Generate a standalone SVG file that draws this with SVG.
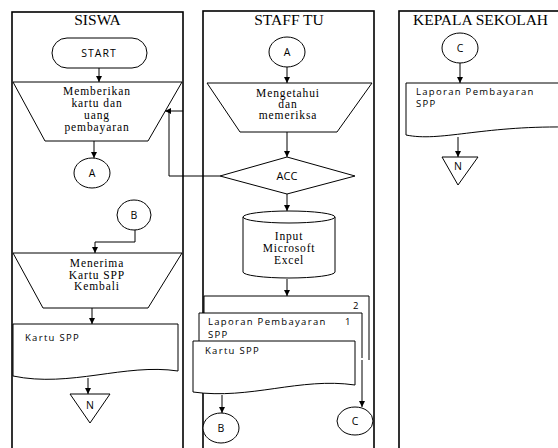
<svg xmlns="http://www.w3.org/2000/svg" width="558" height="448" viewBox="0 0 558 448">
<defs>
<marker id="ah" markerUnits="userSpaceOnUse" markerWidth="7" markerHeight="7" refX="6" refY="3" orient="auto">
<path d="M0,0 L6,3 L0,6 Z" fill="#000"/>
</marker>
<style>
.lane{fill:none;stroke:#000;stroke-width:1.6}
.shp{fill:#fff;stroke:#000;stroke-width:1}
.con{fill:none;stroke:#000;stroke-width:1;marker-end:url(#ah)}
.ln{fill:none;stroke:#000;stroke-width:1}
.hd{font-family:"Liberation Serif",serif;font-size:15.5px;fill:#000;text-anchor:middle}
.sf{font-family:"Liberation Serif",serif;font-size:11.5px;fill:#000;text-anchor:middle;letter-spacing:0.9px}
.ss{font-family:"Open Sans","DejaVu Sans",sans-serif;font-size:9.5px;fill:#000;letter-spacing:1.3px}
.sc{font-family:"Open Sans","DejaVu Sans",sans-serif;font-size:10.5px;fill:#000;text-anchor:middle}
</style>
</defs>
<rect width="558" height="448" fill="#fff"/>
<g id="lanes">
<rect class="lane" x="12" y="12" width="171" height="440"/>
<rect class="lane" x="203" y="11" width="171" height="441"/>
<rect class="lane" x="399" y="11" width="170" height="441"/>
<text class="hd" x="97.5" y="25">SISWA</text>
<text class="hd" x="289" y="25">STAFF TU</text>
<text class="hd" x="413" y="25" style="text-anchor:start">KEPALA SEKOLAH</text>
</g>
<g id="connectors">
<path class="con" d="M99,68 V82"/>
<path class="con" d="M94,141 V158"/>
<path class="con" d="M135,230 V242 H95 V253"/>
<path class="con" d="M92,308 V324"/>
<path class="con" d="M88,378 V394"/>
<path class="con" d="M287,67 V83"/>
<path class="con" d="M287,132 V157"/>
<path class="con" d="M287,194 V211"/>
<path class="ln" d="M220,176 H169 V111"/>
<path class="con" d="M183,111 H165"/>
<path class="con" d="M287,279 V296"/>
<path class="con" d="M222,395 V413"/>
<path class="con" d="M362,358 V407"/>
<path class="con" d="M460,63 V83"/>
<path class="con" d="M458,137 V157"/>
</g>
<g id="start">
<rect class="shp" x="52" y="38" width="95" height="30" rx="15"/>
<text class="ss" x="99" y="57" style="text-anchor:middle;font-size:10.5px;letter-spacing:1px">START</text>
</g>
<g id="memberikan">
<path class="shp" d="M13,82 H182 L148,141 H45 Z"/>
<text class="sf" x="97" y="95">Memberikan</text>
<text class="sf" x="97" y="107">kartu dan</text>
<text class="sf" x="97" y="119">uang</text>
<text class="sf" x="97" y="131">pembayaran</text>
</g>
<g id="conA1">
<ellipse class="shp" cx="92" cy="173" rx="18" ry="15"/>
<text class="sc" x="92" y="177">A</text>
</g>
<g id="conB1">
<ellipse class="shp" cx="134" cy="215" rx="17" ry="15"/>
<text class="sc" x="134" y="219">B</text>
</g>
<g id="menerima">
<path class="shp" d="M13,253 H182 L148,308 H43 Z"/>
<text class="sf" x="97" y="267">Menerima</text>
<text class="sf" x="97" y="279">Kartu SPP</text>
<text class="sf" x="97" y="290">Kembali</text>
</g>
<g id="kartu1">
<path class="shp" d="M13,324 H178 V371 C125,363 70,388 13,376 Z"/>
<text class="ss" x="25" y="341">Kartu SPP</text>
</g>
<g id="n1">
<path class="shp" d="M70,394 H110 L90,423 Z"/>
<text class="sc" x="90" y="409">N</text>
</g>
<g id="conA2">
<ellipse class="shp" cx="287" cy="52" rx="18" ry="15"/>
<text class="sc" x="287" y="56">A</text>
</g>
<g id="mengetahui">
<path class="shp" d="M207,83 H372 L337,132 H240 Z"/>
<text class="sf" x="288" y="97">Mengetahui</text>
<text class="sf" x="288" y="108">dan</text>
<text class="sf" x="288" y="119">memeriksa</text>
</g>
<g id="acc">
<path class="shp" d="M287,157 L355,176 L287,194 L220,176 Z"/>
<text class="sc" x="287" y="180" style="font-size:11px">ACC</text>
</g>
<g id="excel">
<path class="shp" d="M243,217 V272 A46,6 0 0 0 335,272 V217"/>
<ellipse class="shp" cx="289" cy="217" rx="46" ry="6"/>
<text class="sf" x="289" y="240" style="letter-spacing:0.8px">Input</text>
<text class="sf" x="289" y="252" style="letter-spacing:0.8px">Microsoft</text>
<text class="sf" x="289" y="264" style="letter-spacing:0.8px">Excel</text>
</g>
<g id="doc2">
<rect x="204" y="296" width="165" height="64" fill="#fff"/>
<path class="ln" d="M204,315 V296 H369 V360"/>
<text class="ss" x="353" y="309">2</text>
</g>
<g id="doc1">
<rect x="199" y="313" width="163" height="45" fill="#fff"/>
<path class="ln" d="M199,341 V313 H362 V358"/>
<text class="ss" x="208" y="325">Laporan Pembayaran</text>
<text class="ss" x="345" y="325">1</text>
<text class="ss" x="208" y="338">SPP</text>
</g>
<g id="kartu2">
<path class="shp" d="M193,341 H355 V385 C300,377 250,400 193,392 Z"/>
<text class="ss" x="205" y="354">Kartu SPP</text>
</g>
<g id="conB2">
<ellipse class="shp" cx="221" cy="428" rx="18" ry="15"/>
<text class="sc" x="221" y="432">B</text>
</g>
<g id="conC2">
<ellipse class="shp" cx="355" cy="421" rx="18" ry="14"/>
<text class="sc" x="355" y="425">C</text>
</g>
<g id="conC3">
<ellipse class="shp" cx="460" cy="48" rx="18" ry="15"/>
<text class="sc" x="460" y="52">C</text>
</g>
<g id="laporan3">
<path class="shp" d="M406,83 H565 V127 C480,126 440,142 406,135 Z"/>
<text class="ss" x="416" y="95">Laporan Pembayaran</text>
<text class="ss" x="416" y="107">SPP</text>
</g>
<g id="n3">
<path class="shp" d="M442,157 H478 L458,185 Z"/>
<text class="sc" x="458" y="170">N</text>
</g>
</svg>
